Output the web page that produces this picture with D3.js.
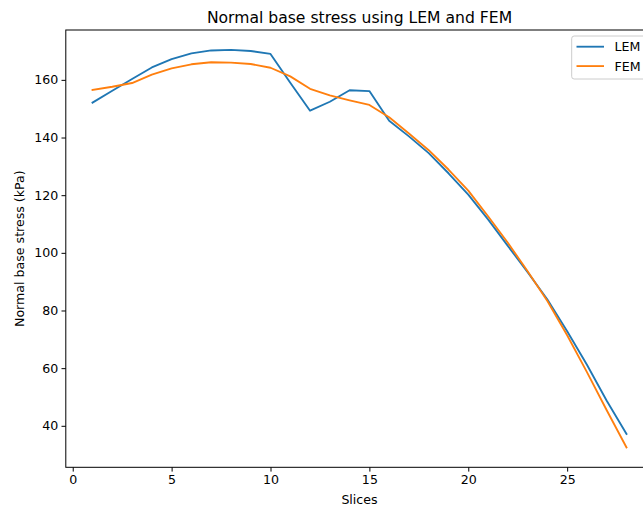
<!DOCTYPE html>
<html>
<head>
<meta charset="utf-8">
<script src="https://cdn.jsdelivr.net/npm/d3@7/dist/d3.min.js"></script>
<style>
  html, body { margin: 0; padding: 0; background: #fff; overflow: hidden; }
  svg { display: block; }
  text { font-family: "DejaVu Sans", sans-serif; fill: #000; }
</style>
</head>
<body>
<svg id="chart" width="643" height="507"></svg>
<script>
const slices = [1,2,3,4,5,6,7,8,9,10,11,12,13,14,15,16,17,18,19,20,21,22,23,24,25,26,27,28];
const lemValues = [152.1,156.2,160.3,164.3,167.2,169.2,170.2,170.4,170.0,169.0,159.0,149.3,152.4,156.4,156.1,145.8,140.4,134.6,127.6,120.2,111.6,102.4,93.3,83.8,72.8,61.2,48.7,37.2];
const femValues = [156.5,157.6,158.9,161.8,164.0,165.4,166.1,166.0,165.5,164.2,161.2,156.9,154.6,152.9,151.3,147.0,141.4,135.6,128.9,121.6,112.7,103.5,93.6,83.3,71.4,58.6,45.4,32.5];
const xTicks = [0,5,10,15,20,25];
const yTicks = [40,60,80,100,120,140,160];
const seriesNames = ["LEM","FEM"];
const seriesColors = ["#1f77b4","#ff7f0e"];

const svg = d3.select("#chart");
const L = 65.8, R = 653.2, T = 30, B = 467.3;

const allVals = lemValues.concat(femValues);
const yMin = d3.min(allVals), yMax = d3.max(allVals);
const yPad = (yMax - yMin) * 0.05;
const xMin = d3.min(slices), xMax = d3.max(slices);
const xPad = (xMax - xMin) * 0.05;

const x = d3.scaleLinear().domain([xMin - xPad, xMax + xPad]).range([L, R]);
const y = d3.scaleLinear().domain([yMin - yPad, yMax + yPad]).range([B, T]);

const fs = 12.6;

// lines
const line = d3.line().x((d,i) => x(slices[i])).y(d => y(d));
[lemValues, femValues].forEach((vals, k) => {
  svg.append("path")
    .attr("d", line(vals))
    .attr("fill", "none")
    .attr("stroke", seriesColors[k])
    .attr("stroke-width", 1.85)
    .attr("stroke-linejoin", "round")
    .attr("stroke-linecap", "square");
});

// axes
const xAxis = svg.append("g").attr("transform", `translate(0,${B})`)
  .call(d3.axisBottom(x).tickValues(xTicks).tickSize(4.3).tickPadding(3.3).tickFormat(d3.format("d")));
const yAxis = svg.append("g").attr("transform", `translate(${L},0)`)
  .call(d3.axisLeft(y).tickValues(yTicks).tickSize(4.3).tickPadding(3.3).tickFormat(d3.format("d")));
[xAxis, yAxis].forEach(g => {
  g.select(".domain").remove();
  g.selectAll(".tick line").attr("stroke", "#000").attr("stroke-width", 1);
  g.selectAll(".tick text").style("font-family", '"DejaVu Sans", sans-serif').style("font-size", fs + "px").attr("fill", "#000");
});

// spines
svg.append("rect").attr("x", L).attr("y", T).attr("width", R - L).attr("height", B - T)
  .attr("fill", "none").attr("stroke", "#000").attr("stroke-width", 1);

// title & labels
svg.append("text").attr("x", (L + R) / 2).attr("y", 22.8).attr("text-anchor", "middle")
  .style("font-size", "15.6px").text("Normal base stress using LEM and FEM");
svg.append("text").attr("x", (L + R) / 2).attr("y", 503.8).attr("text-anchor", "middle")
  .style("font-size", fs + "px").text("Slices");
svg.append("text").attr("transform", `translate(23.9,${(T + B) / 2}) rotate(-90)`)
  .attr("text-anchor", "middle").style("font-size", fs + "px").text("Normal base stress (kPa)");

// legend
const lg = svg.append("g");
lg.append("rect").attr("x", 571.7).attr("y", 36).attr("width", 77).attr("height", 43)
  .attr("rx", 2.5).attr("fill", "#fff").attr("fill-opacity", 0.8)
  .attr("stroke", "#cccccc").attr("stroke-width", 1);
seriesNames.forEach((name, i) => {
  const yy = 46.7 + i * 19.4;
  lg.append("line").attr("x1", 576.5).attr("x2", 604).attr("y1", yy).attr("y2", yy)
    .attr("stroke", seriesColors[i]).attr("stroke-width", 1.85);
  lg.append("text").attr("x", 614.5).attr("y", yy).attr("dy", "0.36em")
    .style("font-size", fs + "px").text(name);
});
</script>
</body>
</html>
